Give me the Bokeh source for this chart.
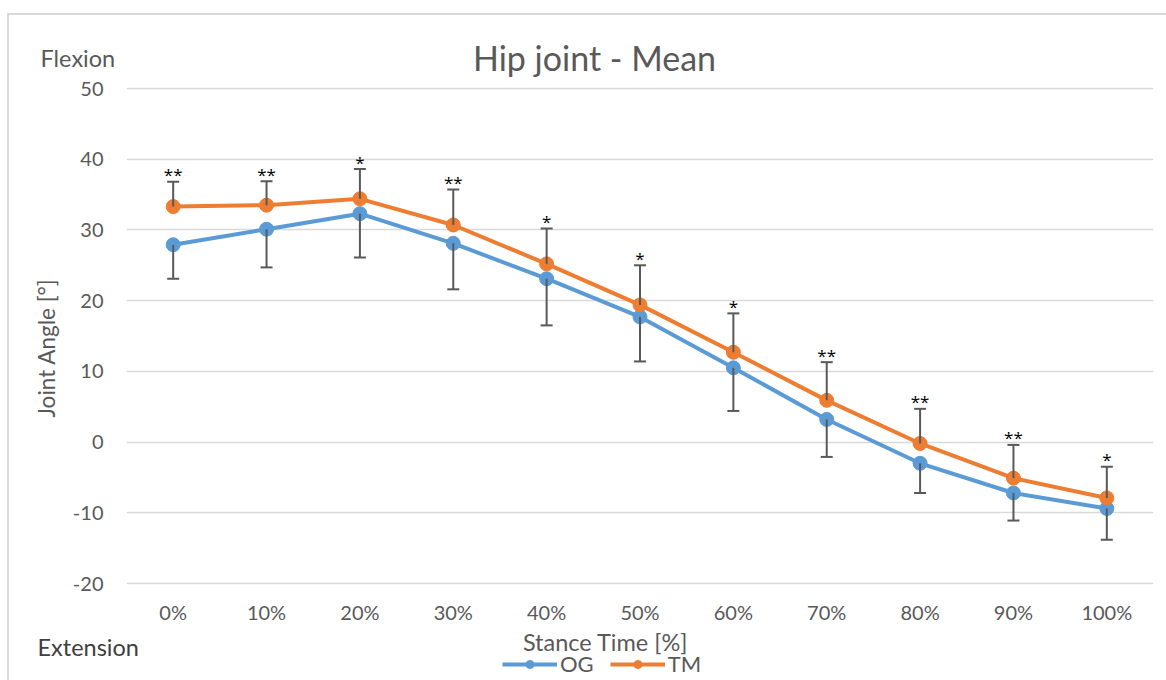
from bokeh.plotting import figure
from bokeh.models import (ColumnDataSource, FactorRange, Range1d, FixedTicker, Whisker,
                          TeeHead, Label, Legend, LegendItem, GridBox)
from bokeh.core.properties import value
from bokeh.embed import file_html
from bokeh.resources import INLINE

# Stance phase (percent of stance time)
stance = ["0%", "10%", "20%", "30%", "40%", "50%", "60%", "70%", "80%", "90%", "100%"]

# Mean hip angle [deg], overground (OG) and treadmill (TM)
og_mean = [27.9, 30.1, 32.3, 28.1, 23.1, 17.7, 10.5, 3.2, -3.0, -7.2, -9.4]
tm_mean = [33.3, 33.5, 34.4, 30.7, 25.2, 19.4, 12.7, 5.9, -0.2, -5.1, -7.9]

# Standard deviations (OG shown downward, TM shown upward)
og_sd = [4.8, 5.4, 6.2, 6.5, 6.6, 6.3, 6.1, 5.3, 4.2, 3.9, 4.4]
tm_sd = [3.5, 3.4, 4.2, 5.0, 5.0, 5.6, 5.5, 5.4, 4.9, 4.7, 4.4]

# Significance markers per stance phase
significance = ["**", "**", "*", "**", "*", "*", "*", "**", "**", "**", "*"]

y_ticks = [-20, -10, 0, 10, 20, 30, 40, 50]

BLUE = "#5B9BD5"
ORANGE = "#ED7D31"
GREY_TEXT = "#595959"
FONT = "Lato"

# page geometry: the plot frame runs the full canvas height, the angle scale
# puts 50 deg at 88 px and -20 deg at 583 px from the top of the page
ORIGIN_X, ORIGIN_Y = 9, 15          # canvas corner on the page (margin + border)
CANVAS_W, CANVAS_H = 1157, 665
FRAME_LEFT = 126
CAT_PX = 93.36
Y50_PX, YM20_PX = 88, 583
UNIT_PX = (YM20_PX - Y50_PX) / 70.0


def x_at(px):
    # synthetic categorical coordinate: 0 at the left edge of the frame
    return (px - FRAME_LEFT) / CAT_PX


def y_at(py):
    return 50 - (py - Y50_PX) / UNIT_PX


src = ColumnDataSource(dict(
    x=stance,
    og=og_mean,
    tm=tm_mean,
    og_lo=[m - s for m, s in zip(og_mean, og_sd)],
    tm_hi=[m + s for m, s in zip(tm_mean, tm_sd)],
    sig=significance,
))

p = figure(
    width=CANVAS_W, height=CANVAS_H,
    x_range=FactorRange(*stance),
    y_range=Range1d(y_at(ORIGIN_Y + CANVAS_H), y_at(ORIGIN_Y)),
    output_backend="svg",
    toolbar_location=None,
    min_border_left=FRAME_LEFT - ORIGIN_X, min_border_right=13,
    min_border_top=0, min_border_bottom=0,
    outline_line_color=None,
)
p.background_fill_color = "white"
p.border_fill_color = "white"
p.title.visible = False


def plain_axis(ax, size="20px"):
    ax.axis_line_color = None
    ax.major_tick_line_color = None
    ax.minor_tick_line_color = None
    ax.major_tick_in = 0
    ax.major_tick_out = 0
    ax.major_label_text_font = FONT
    ax.major_label_text_font_size = size
    ax.major_label_text_color = GREY_TEXT


# angle axis
yax = p.yaxis[0]
plain_axis(yax)
yax.ticker = FixedTicker(ticks=y_ticks)
yax.major_label_overrides = {t: str(t) for t in y_ticks}
yax.major_label_standoff = 23
yax.axis_label = "Joint Angle [°]"
yax.axis_label_text_font = FONT
yax.axis_label_text_font_size = "22.5px"
yax.axis_label_text_font_style = "normal"
yax.axis_label_text_color = GREY_TEXT
yax.axis_label_standoff = 10

# stance axis sits on the -20 line
xax = p.xaxis[0]
plain_axis(xax)
xax.fixed_location = -20
xax.major_label_standoff = 16

p.xgrid.grid_line_color = None
p.ygrid.grid_line_color = "#D9D9D9"
p.ygrid.grid_line_width = 1.5

# error bars
err_tm = Whisker(source=src, base="x", upper="tm_hi", lower="tm", dimension="height",
                 line_color=GREY_TEXT, line_width=2, level="glyph",
                 upper_head=TeeHead(size=12, line_color=GREY_TEXT, line_width=2),
                 lower_head=None)
err_og = Whisker(source=src, base="x", upper="og", lower="og_lo", dimension="height",
                 line_color=GREY_TEXT, line_width=2, level="glyph",
                 lower_head=TeeHead(size=12, line_color=GREY_TEXT, line_width=2),
                 upper_head=None)
p.add_layout(err_tm)
p.add_layout(err_og)

# series
og_line = p.line("x", "og", source=src, line_color=BLUE, line_width=4)
og_pts = p.scatter("x", "og", source=src, size=14, fill_color=BLUE, line_color=BLUE)
tm_line = p.line("x", "tm", source=src, line_color=ORANGE, line_width=4)
tm_pts = p.scatter("x", "tm", source=src, size=14, fill_color=ORANGE, line_color=ORANGE)

# significance stars above the TM error bars
p.text("x", "tm_hi", text="sig", source=src, text_align="center",
       text_baseline="alphabetic", y_offset=-7, text_font=value("Open Sans"),
       text_font_size="17px", text_color="black")

# chart title and stance axis title
p.add_layout(Label(x=x_at(594), y=y_at(57), text="Hip joint - Mean", text_font=FONT,
                   text_font_size="34px", text_color=GREY_TEXT,
                   text_align="center", text_baseline="middle"))
p.add_layout(Label(x=x_at(605), y=y_at(641), text="Stance Time [%]", text_font=FONT,
                   text_font_size="23.5px", text_color=GREY_TEXT,
                   text_align="center", text_baseline="middle"))

legend = Legend(
    items=[LegendItem(label="OG", renderers=[og_line, og_pts]),
           LegendItem(label="TM", renderers=[tm_line, tm_pts])],
    orientation="horizontal",
    location=(376, 3),
    glyph_width=55, glyph_height=20,
    label_standoff=3, spacing=16, padding=0, margin=0,
    label_text_font=FONT, label_text_font_size="22px", label_text_color=GREY_TEXT,
    border_line_color=None, background_fill_alpha=0,
)
p.add_layout(legend, "center")

# transparent sheet on top of the chart for the direction hints beside the angle axis
# (coordinates are canvas pixels, measured from the top-left corner)
hints = figure(
    width=CANVAS_W, height=CANVAS_H,
    x_range=Range1d(0, CANVAS_W), y_range=Range1d(CANVAS_H, 0),
    x_axis_type=None, y_axis_type=None,
    output_backend="svg", toolbar_location=None,
    min_border=0, outline_line_color=None,
)
hints.background_fill_alpha = 0
hints.border_fill_alpha = 0
hints.title.visible = False
hints.xgrid.visible = False
hints.ygrid.visible = False
for text, left_px, mid_px, color in [("Flexion", 40, 57, GREY_TEXT),
                                     ("Extension", 37, 646, "#404040")]:
    hints.add_layout(Label(x=left_px - ORIGIN_X, y=mid_px - ORIGIN_Y, text=text,
                           text_font=FONT, text_font_size="23.5px", text_color=color,
                           text_align="left", text_baseline="middle"))

# keep each canvas's own frame instead of lining the two frames up
for fig in (p, hints):
    if hasattr(fig, "frame_align"):
        fig.frame_align = False

page = GridBox(
    children=[(p, 0, 0), (hints, 0, 0)],
    margin=(13, 0, 0, 7),
    styles={"border-left": "2px solid #D9D9D9", "border-top": "2px solid #D9D9D9"},
)

open("out.html", "w").write(file_html(page, INLINE))
